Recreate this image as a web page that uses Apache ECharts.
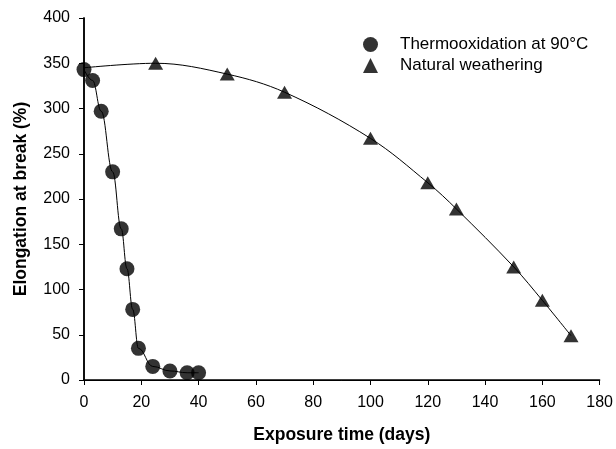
<!DOCTYPE html>
<html>
<head>
<meta charset="utf-8">
<script src="https://cdn.jsdelivr.net/npm/echarts@6/dist/echarts.min.js"></script>
<style>
  html, body { margin: 0; padding: 0; background: #fff; }
  #main { width: 616px; height: 449px; }
</style>
</head>
<body>
<div id="main"></div>
<script>
// data
const thermoDays = [0, 3, 6, 10, 13, 15, 17, 19, 24, 30, 36, 40]
const thermoElong = [343, 331, 297, 230, 167, 123, 78, 35, 15, 10, 8, 8]
const naturalDays = [25, 50, 70, 100, 120, 130, 150, 160, 170]
const naturalElong = [350, 338, 318, 267, 218, 189, 125, 88, 49]
// fitted curve for natural weathering starts at the y axis
const naturalFitStart = [0, 345]

const xTicks = { min: 0, max: 180, interval: 20 }
const yTicks = { min: 0, max: 400, interval: 50 }

const chart = echarts.init(document.getElementById('main'))

const font = 'Liberation Sans, Arial, sans-serif'
const thermoPts = thermoDays.map((d, i) => [d, thermoElong[i]])
const naturalPts = naturalDays.map((d, i) => [d, naturalElong[i]])

const option = {
  animation: false,
  backgroundColor: '#fff',
  grid: { left: 84, right: 13, top: 18, bottom: 66 },
  legend: {
    orient: 'vertical',
    left: 363,
    top: 36,
    padding: 0,
    itemGap: 4,
    itemWidth: 15,
    itemHeight: 15,
    textStyle: { fontFamily: font, fontSize: 17, lineHeight: 17, color: '#000', padding: [0, 0, 0, 17] },
    data: [
      { name: 'Thermooxidation at 90°C', icon: 'circle' },
      { name: 'Natural weathering', icon: 'triangle' }
    ]
  },
  xAxis: [
    {
      type: 'value',
      ...xTicks,
      name: 'Exposure time (days)',
      nameLocation: 'middle',
      nameGap: 46,
      nameTextStyle: { fontFamily: font, fontSize: 17.5, fontWeight: 'bold', color: '#000' },
      axisLine: { onZero: false, lineStyle: { color: '#000', width: 1.5 } },
      axisTick: { show: true, length: 5, lineStyle: { color: '#000' } },
      axisLabel: { fontFamily: font, fontSize: 16, color: '#000', margin: 15 },
      splitLine: { show: false }
    },
    {
      type: 'value',
      position: 'top',
      ...xTicks,
      axisLine: { show: true, lineStyle: { color: '#000', width: 1 } },
      axisTick: { show: true, inside: true, length: 4, lineStyle: { color: '#000' } },
      axisLabel: { show: false },
      splitLine: { show: false }
    }
  ],
  yAxis: [
    {
      type: 'value',
      ...yTicks,
      name: 'Elongation at break (%)',
      nameLocation: 'middle',
      nameGap: 54,
      nameTextStyle: { fontFamily: font, fontSize: 17.5, fontWeight: 'bold', color: '#000' },
      axisLine: { show: true, onZero: false, lineStyle: { color: '#000', width: 1.5 } },
      axisTick: { show: true, length: 5, lineStyle: { color: '#000' } },
      axisLabel: { fontFamily: font, fontSize: 16, color: '#000', margin: 14 },
      splitLine: { show: false }
    },
    {
      type: 'value',
      position: 'right',
      ...yTicks,
      axisLine: { show: true, lineStyle: { color: '#000', width: 1.5 } },
      axisTick: { show: true, inside: true, length: 4, lineStyle: { color: '#000' } },
      axisLabel: { show: false },
      splitLine: { show: false }
    }
  ],
  series: [
    {
      // fitted curve, thermooxidation
      type: 'line',
      data: thermoPts,
      smooth: 0.4,
      smoothMonotone: 'x',
      showSymbol: false,
      silent: true,
      lineStyle: { color: '#000', width: 1 }
    },
    {
      // fitted curve, natural weathering
      type: 'line',
      data: [naturalFitStart].concat(naturalPts),
      smooth: 0.35,
      showSymbol: false,
      silent: true,
      lineStyle: { color: '#000', width: 1 }
    },
    {
      name: 'Thermooxidation at 90°C',
      type: 'scatter',
      data: thermoPts,
      symbol: 'circle',
      symbolSize: 15,
      itemStyle: { color: '#000' },
      z: 5
    },
    {
      name: 'Natural weathering',
      type: 'scatter',
      data: naturalPts,
      symbol: 'triangle',
      symbolSize: [15, 13],
      itemStyle: { color: '#000' },
      z: 5
    }
  ]
}

chart.setOption(option)
</script>
</body>
</html>
